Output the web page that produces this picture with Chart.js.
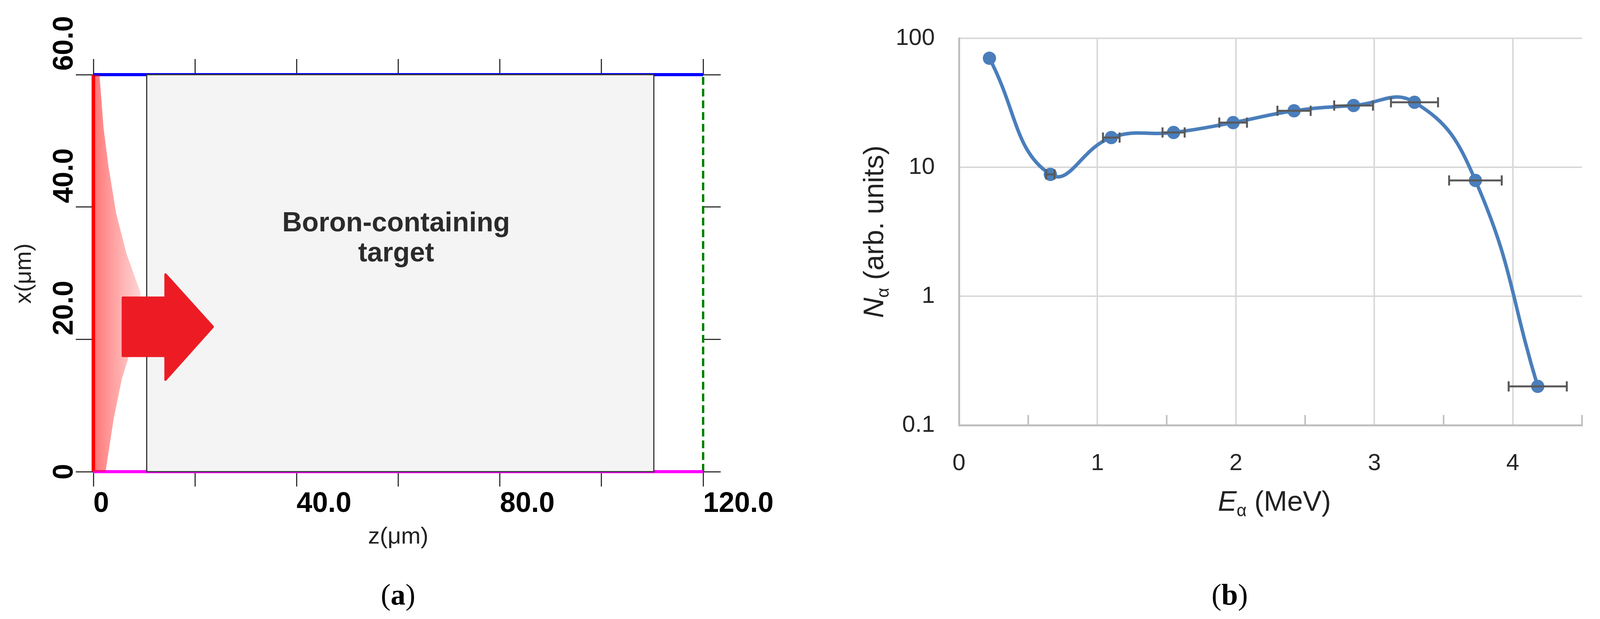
<!DOCTYPE html>
<html>
<head>
<meta charset="utf-8">
<script src="https://cdn.jsdelivr.net/npm/chart.js@4.4.1/dist/chart.umd.min.js"></script>
<style>
  html, body { margin: 0; padding: 0; background: #fff; }
  body { width: 4112px; height: 1584px; position: relative; overflow: hidden; }
  .panel { position: absolute; top: 0; height: 1584px; }
  #left { left: 0; width: 2000px; }
  #right { left: 2100px; width: 2012px; }
  .cap { position: absolute; top: 1475px; font-family: "Liberation Serif", "DejaVu Serif", serif;
         font-size: 76px; line-height: 92px; transform: translateX(-50%); color: #000; }
  .cap b { font-weight: bold; }
</style>
</head>
<body>
<div class="panel" id="left"><canvas id="geom"></canvas></div>
<div class="panel" id="right"><canvas id="spec"></canvas></div>
<div class="cap" style="left:1019px">(<b>a</b>)</div>
<div class="cap" style="left:3148px">(<b>b</b>)</div>
<script>
// ---------- panel (a): simulation geometry ----------
const zRange = [0, 120];
const xRange = [0, 60];
const targetZ = [10.5, 110.3];          // target slab edges (um)
const greenZ = 120;                      // dashed detector plane
const cloudX = [60, 52, 46, 39, 33, 27, 22, 18, 14, 8, 0];
const cloudZ = [1.2, 2, 3, 4.5, 6.5, 9.3, 8.8, 7.2, 5.6, 4, 2.4];
const zTickLabels = {0: "0", 40: "40.0", 80: "80.0", 120: "120.0"};
const xTickLabels = {0: "0", 20: "20.0", 40: "40.0", 60: "60.0"};

// ---------- panel (b): alpha spectrum ----------
const energy = [0.22, 0.66, 1.10, 1.55, 1.98, 2.42, 2.85, 3.29, 3.73, 4.18];
const counts = [70, 8.8, 17, 18.6, 22.2, 27.4, 30.1, 31.9, 7.9, 0.2];
const energyErr = [0, 0.03, 0.06, 0.08, 0.1, 0.12, 0.14, 0.17, 0.19, 0.21];
const yDecades = [0.1, 1, 10, 100];
const xMajor = [0, 1, 2, 3, 4];

const cloudPoly = cloudX.map((x, i) => ({ x: cloudZ[i], y: x }));
cloudPoly.push({ x: 0, y: 0 }, { x: 0, y: 60 }, { x: cloudZ[0], y: cloudX[0] });

const fixW = w => ({ afterFit(s) { s.width = w; } });
const fixH = h => ({ afterFit(s) { s.height = h; } });

const geomPlugin = {
  id: "geomDecor",
  afterDatasetsDraw(chart) {
    const ctx = chart.ctx, sx = chart.scales.x, sy = chart.scales.y;
    const P = (z, x) => [sx.getPixelForValue(z), sy.getPixelForValue(x)];
    // block arrow
    const pts = [[5.8, 17.5], [14.2, 17.5], [14.2, 13.9], [23.5, 21.9], [14.2, 29.8], [14.2, 26.3], [5.8, 26.3]];
    ctx.save();
    ctx.beginPath();
    pts.forEach((p, i) => { const [a, b] = P(p[0], p[1]); i ? ctx.lineTo(a, b) : ctx.moveTo(a, b); });
    ctx.closePath();
    ctx.fillStyle = "#ed1c24";
    ctx.lineJoin = "round";
    ctx.strokeStyle = "#ed1c24";
    ctx.lineWidth = 6;
    ctx.fill(); ctx.stroke();
    // label
    ctx.fillStyle = "#2b2b2b";
    ctx.font = "bold 70px 'Liberation Sans', Arial, sans-serif";
    ctx.textAlign = "center"; ctx.textBaseline = "middle";
    ctx.fillText("Boron-containing", 1014, 573);
    ctx.fillText("target", 1014, 650);
    // rotated y tick labels
    ctx.fillStyle = "#000";
    ctx.font = "bold 72px 'Liberation Sans', Arial, sans-serif";
    sy.ticks.forEach(t => {
      const lab = xTickLabels[t.value];
      if (lab === undefined) return;
      const py = sy.getPixelForValue(t.value);
      ctx.save();
      ctx.translate(166, t.value === 0 ? py : py - 10);
      ctx.rotate(-Math.PI / 2);
      ctx.textAlign = t.value === 0 ? "center" : "left";
      ctx.fillText(lab, 0, 0);
      ctx.restore();
    });
    // rotated axis title
    ctx.save();
    ctx.translate(62, 700);
    ctx.rotate(-Math.PI / 2);
    ctx.font = "60px 'Liberation Sans', Arial, sans-serif";
    ctx.fillStyle = "#222";
    ctx.textAlign = "center";
    ctx.fillText("x(\u03bcm)", 0, 0);
    ctx.restore();
    ctx.restore();
  }
};

const edge = (data, color, width, dash) => ({
  type: "scatter", showLine: true, data, borderColor: color, borderWidth: width,
  borderDash: dash || [], pointRadius: 0, fill: false, clip: 20
});

new Chart(document.getElementById("geom"), {
  type: "scatter",
  data: {
    datasets: [
      { type: "scatter", showLine: true, pointRadius: 0, clip: 20,
        data: [{x: targetZ[0], y: 0}, {x: targetZ[0], y: 60}, {x: targetZ[1], y: 60}, {x: targetZ[1], y: 0}, {x: targetZ[0], y: 0}],
        borderColor: "#333", borderWidth: 3, backgroundColor: "#f4f4f4", fill: "shape" },
      { type: "scatter", showLine: true, pointRadius: 0, data: cloudPoly, borderWidth: 0, fill: "shape",
        backgroundColor(c) {
          const ch = c.chart; if (!ch.chartArea) return "rgba(255,0,0,0.3)";
          const x0 = ch.scales.x.getPixelForValue(0), x1 = ch.scales.x.getPixelForValue(9.5);
          const g = ch.ctx.createLinearGradient(x0, 0, x1, 0);
          g.addColorStop(0, "rgba(255,0,0,0.55)");
          g.addColorStop(0.5, "rgba(255,30,30,0.38)");
          g.addColorStop(1, "rgba(255,60,60,0.22)");
          return g;
        } },
      edge([{x: 0, y: 60}, {x: 120, y: 60}], "#0000ff", 8),
      edge([{x: 0, y: 0}, {x: 120, y: 0}], "#ff00ff", 8),
      edge([{x: 0, y: 0}, {x: 0, y: 60}], "#ff0000", 9),
      edge([{x: greenZ, y: 0}, {x: greenZ, y: 60}], "#008000", 6, [20, 10])
    ]
  },
  options: {
    responsive: true, maintainAspectRatio: false, animation: false,
    layout: { padding: { left: 0, right: 0, top: 0, bottom: 174 } },
    plugins: { legend: { display: false }, tooltip: { enabled: false } },
    scales: {
      x: {
        type: "linear", position: "bottom", min: zRange[0], max: zRange[1],
        ticks: { stepSize: 20, align: "start", padding: 2, color: "#000",
          font: { family: "'Liberation Sans', Arial", size: 72, weight: "bold" },
          callback: v => zTickLabels[v] ?? "" , maxRotation: 0, autoSkip: false },
        grid: { drawOnChartArea: false, tickLength: 38, color: "#333", lineWidth: 3 },
        border: { display: false },
        title: { display: true, text: "z(\u03bcm)", color: "#222", padding: 0,
          font: { family: "'Liberation Sans', Arial", size: 60, lineHeight: 1.2 } },
        ...fixH(203)
      },
      xt: {
        type: "linear", position: "top", min: zRange[0], max: zRange[1],
        ticks: { stepSize: 20, display: false },
        grid: { drawOnChartArea: false, tickLength: 40, color: "#333", lineWidth: 3 },
        border: { display: false }, ...fixH(191)
      },
      y: {
        type: "linear", position: "left", min: xRange[0], max: xRange[1],
        ticks: { stepSize: 20, display: false },
        grid: { drawOnChartArea: false, tickLength: 45, color: "#333", lineWidth: 3 },
        border: { display: false }, ...fixW(239)
      },
      yr: {
        type: "linear", position: "right", min: xRange[0], max: xRange[1],
        ticks: { stepSize: 20, display: false },
        grid: { drawOnChartArea: false, tickLength: 45, color: "#333", lineWidth: 3 },
        border: { display: false }, ...fixW(200)
      }
    }
  },
  plugins: [geomPlugin]
});

// ---------- panel (b) chart ----------
const specPlugin = {
  id: "specDecor",
  afterDatasetsDraw(chart) {
    const ctx = chart.ctx, sx = chart.scales.x, sy = chart.scales.y, a = chart.chartArea;
    ctx.save();
    // inward minor ticks at half units
    ctx.strokeStyle = "#bfbfbf"; ctx.lineWidth = 4;
    for (let i = 0; i < xMajor.length; i++) {
      const px = sx.getPixelForValue(xMajor[i] + 0.5);
      ctx.beginPath(); ctx.moveTo(px, a.bottom); ctx.lineTo(px, a.bottom - 26); ctx.stroke();
    }
    // horizontal error bars
    ctx.strokeStyle = "#595959"; ctx.lineWidth = 5;
    energy.forEach((e, i) => {
      const d = energyErr[i]; if (!d) return;
      const y = sy.getPixelForValue(counts[i]);
      const l = sx.getPixelForValue(e - d), r = sx.getPixelForValue(e + d);
      ctx.beginPath();
      ctx.moveTo(l, y); ctx.lineTo(r, y);
      ctx.moveTo(l, y - 13); ctx.lineTo(l, y + 13);
      ctx.moveTo(r, y - 13); ctx.lineTo(r, y + 13);
      ctx.stroke();
    });
    // axis titles with italic symbol and subscript
    const drawSym = (sym, rest, cx, cy, rot) => {
      ctx.save();
      ctx.translate(cx, cy); ctx.rotate(rot);
      ctx.fillStyle = "#222"; ctx.textBaseline = "alphabetic";
      const fMain = "italic 72px 'Liberation Sans', Arial", fSub = "44px 'Liberation Sans', Arial", fRest = "72px 'Liberation Sans', Arial";
      ctx.font = fMain; const w1 = ctx.measureText(sym).width;
      ctx.font = fSub; const w2 = ctx.measureText("\u03b1").width;
      ctx.font = fRest; const w3 = ctx.measureText(rest).width;
      let x = -(w1 + w2 + w3) / 2;
      ctx.font = fMain; ctx.fillText(sym, x, 26); x += w1;
      ctx.font = fSub; ctx.fillText("\u03b1", x, 40); x += w2;
      ctx.font = fRest; ctx.fillText(rest, x, 26);
      ctx.restore();
    };
    drawSym("E", " (MeV)", (a.left + a.right) / 2 + 10, 1281, 0);
    drawSym("N", " (arb. units)", 2235 - 2100, (a.top + a.bottom) / 2, -Math.PI / 2);
    ctx.restore();
  }
};

new Chart(document.getElementById("spec"), {
  type: "line",
  data: {
    datasets: [{
      data: energy.map((e, i) => ({ x: e, y: counts[i] })),
      borderColor: "#4a7ebb", backgroundColor: "#4a7ebb", borderWidth: 9,
      pointRadius: 17, pointBackgroundColor: "#4a7ebb", pointBorderWidth: 0,
      tension: 0.45, fill: false, clip: 30
    }]
  },
  options: {
    responsive: true, maintainAspectRatio: false, animation: false,
    layout: { padding: { left: 0, right: 34, top: 67, bottom: 0 } },
    plugins: { legend: { display: false }, tooltip: { enabled: false } },
    scales: {
      x: {
        type: "linear", min: 0, max: 4.5,
        ticks: { stepSize: 0.5, padding: 62, color: "#262626", maxRotation: 0, autoSkip: false,
          font: { family: "'Liberation Sans', Arial", size: 60 },
          callback: v => xMajor.includes(v) ? String(v) : "" },
        grid: { drawTicks: false, lineWidth: 4,
          color: c => (c.tick && Number.isInteger(c.tick.value)) ? "#d9d9d9" : "rgba(0,0,0,0)" },
        border: { color: "#bfbfbf", width: 5 },
        ...fixH(1584 - 1088)
      },
      y: {
        type: "logarithmic", min: 0.1, max: 100,
        afterBuildTicks(s) { s.ticks = yDecades.map(v => ({ value: v })); },
        ticks: { padding: 62, color: "#262626",
          font: { family: "'Liberation Sans', Arial", size: 60 },
          callback: v => String(v) },
        grid: { drawTicks: false, lineWidth: 4, color: "#d9d9d9" },
        border: { color: "#bfbfbf", width: 5 },
        ...fixW(2455 - 2100)
      }
    }
  },
  plugins: [specPlugin]
});
</script>
</body>
</html>
